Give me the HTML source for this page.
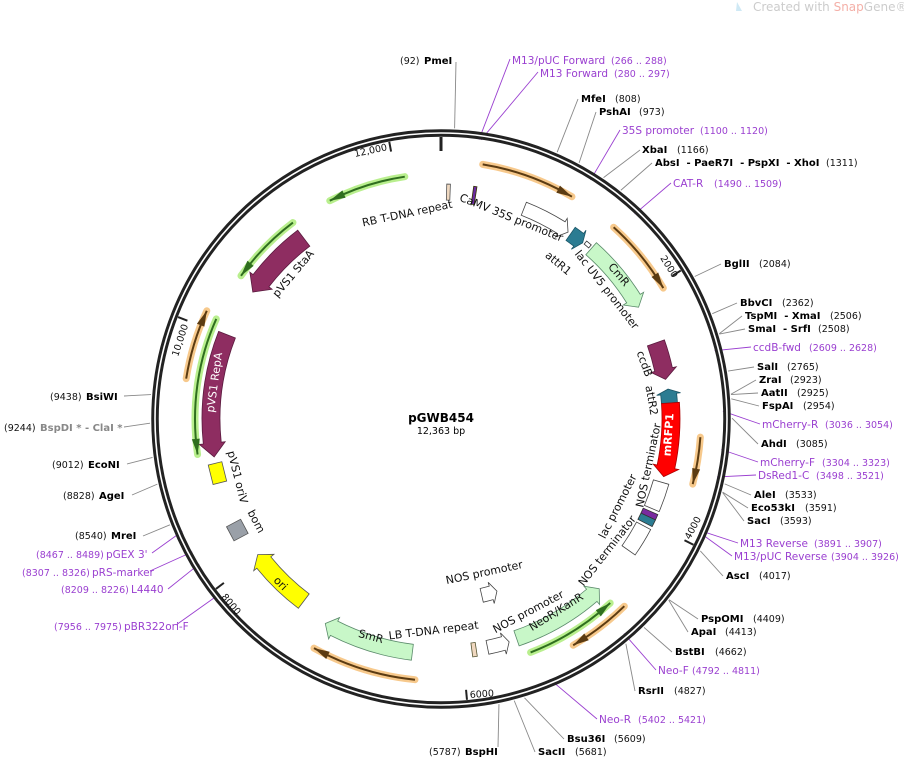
<!DOCTYPE html>
<html><head><meta charset="utf-8"><style>
html,body{margin:0;padding:0;background:#fff;}
svg{display:block;font-family:"DejaVu Sans","Liberation Sans",sans-serif;}
.b{font-weight:bold;font-size:10px;fill:#000}
.n{font-size:9.5px;fill:#111}
.p{font-size:10.5px;fill:#9a3fd0}
.pn{font-size:9.5px;fill:#9a3fd0}
.f{font-size:11px;fill:#111}
.g{font-weight:bold;font-size:10px;fill:#888}
</style></head><body>
<svg id="s" width="904" height="759" viewBox="0 0 904 759" xmlns="http://www.w3.org/2000/svg">
<text x="753" y="11" font-size="12" fill="#ccc">Created with <tspan fill="#f4b0a8">Snap</tspan>Gene®</text>
<path d="M737 2 l5 9 l-6 0 z" fill="#cfe9f5"/>
<g id="lines"></g>
<circle cx="441" cy="419" r="286" fill="none" stroke="#222" stroke-width="7.5"/>
<circle cx="441" cy="419" r="286" fill="none" stroke="#fff" stroke-width="1.6"/>
<g id="feat"></g>
<text x="441" y="422" text-anchor="middle" font-weight="bold" font-size="12">pGWB454</text>
<text x="441" y="434" text-anchor="middle" font-size="9.5">12,363 bp</text>

<text class="n" transform="translate(355,157) rotate(-12)">12,000</text>
<text class="n" transform="translate(660,258) rotate(58)">2000</text>
<text class="n" transform="translate(690,540) rotate(-62)">4000</text>
<text class="n" transform="translate(470,698) rotate(-4)">6000</text>
<text class="n" transform="translate(221,597) rotate(50)">8000</text>
<text class="n" transform="translate(178,357) rotate(-72)">10,000</text>

<text class="n" x="400" y="64">(92)</text><text class="b" x="424" y="64">PmeI</text>
<text class="p" x="512" y="64">M13/pUC Forward</text><text class="pn" x="611" y="64">(266 .. 288)</text>
<text class="p" x="540" y="77">M13 Forward</text><text class="pn" x="614" y="77">(280 .. 297)</text>
<text class="b" x="581" y="102">MfeI</text><text class="n" x="615" y="102">(808)</text>
<text class="b" x="599" y="115">PshAI</text><text class="n" x="639" y="115">(973)</text>
<text class="p" x="622" y="134">35S promoter</text><text class="pn" x="700" y="134">(1100 .. 1120)</text>
<text class="b" x="642" y="153">XbaI</text><text class="n" x="677" y="153">(1166)</text>
<text class="b" x="655" y="166">AbsI &#160;- PaeR7I &#160;- PspXI &#160;- XhoI</text><text class="n" x="826" y="166">(1311)</text>
<text class="p" x="673" y="187">CAT-R</text><text class="pn" x="714" y="187">(1490 .. 1509)</text>
<text class="b" x="724" y="267">BglII</text><text class="n" x="759" y="267">(2084)</text>
<text class="b" x="740" y="306">BbvCI</text><text class="n" x="782" y="306">(2362)</text>
<text class="b" x="745" y="319">TspMI &#160;- XmaI</text><text class="n" x="830" y="319">(2506)</text>
<text class="b" x="748" y="332">SmaI &#160;- SrfI</text><text class="n" x="818" y="332">(2508)</text>
<text class="p" x="753" y="351">ccdB-fwd</text><text class="pn" x="809" y="351">(2609 .. 2628)</text>
<text class="b" x="757" y="370">SalI</text><text class="n" x="787" y="370">(2765)</text>
<text class="b" x="759" y="383">ZraI</text><text class="n" x="790" y="383">(2923)</text>
<text class="b" x="761" y="396">AatII</text><text class="n" x="797" y="396">(2925)</text>
<text class="b" x="762" y="409">FspAI</text><text class="n" x="803" y="409">(2954)</text>
<text class="p" x="762" y="428">mCherry-R</text><text class="pn" x="825" y="428">(3036 .. 3054)</text>
<text class="b" x="761" y="447">AhdI</text><text class="n" x="796" y="447">(3085)</text>
<text class="p" x="760" y="466">mCherry-F</text><text class="pn" x="822" y="466">(3304 .. 3323)</text>
<text class="p" x="758" y="479">DsRed1-C</text><text class="pn" x="816" y="479">(3498 .. 3521)</text>
<text class="b" x="754" y="498">AleI</text><text class="n" x="785" y="498">(3533)</text>
<text class="b" x="751" y="511">Eco53kI</text><text class="n" x="805" y="511">(3591)</text>
<text class="b" x="747" y="524">SacI</text><text class="n" x="780" y="524">(3593)</text>
<text class="p" x="740" y="547">M13 Reverse</text><text class="pn" x="814" y="547">(3891 .. 3907)</text>
<text class="p" x="734" y="560">M13/pUC Reverse</text><text class="pn" x="831" y="560">(3904 .. 3926)</text>
<text class="b" x="726" y="579">AscI</text><text class="n" x="759" y="579">(4017)</text>
<text class="b" x="701" y="622">PspOMI</text><text class="n" x="753" y="622">(4409)</text>
<text class="b" x="691" y="635">ApaI</text><text class="n" x="725" y="635">(4413)</text>
<text class="b" x="675" y="655">BstBI</text><text class="n" x="715" y="655">(4662)</text>
<text class="p" x="658" y="674">Neo-F</text><text class="pn" x="692" y="674">(4792 .. 4811)</text>
<text class="b" x="638" y="694">RsrII</text><text class="n" x="674" y="694">(4827)</text>
<text class="p" x="599" y="723">Neo-R</text><text class="pn" x="638" y="723">(5402 .. 5421)</text>
<text class="b" x="567" y="742">Bsu36I</text><text class="n" x="614" y="742">(5609)</text>
<text class="b" x="538" y="755">SacII</text><text class="n" x="575" y="755">(5681)</text>
<text class="n" x="429" y="755">(5787)</text><text class="b" x="465" y="755">BspHI</text>
<text class="n" x="50" y="400">(9438)</text><text class="b" x="86" y="400">BsiWI</text>
<text class="n" x="4" y="431">(9244)</text><text class="g" x="40" y="431">BspDI * - ClaI *</text>
<text class="n" x="52" y="468">(9012)</text><text class="b" x="88" y="468">EcoNI</text>
<text class="n" x="63" y="499">(8828)</text><text class="b" x="99" y="499">AgeI</text>
<text class="n" x="75" y="539">(8540)</text><text class="b" x="111" y="539">MreI</text>
<text class="pn" x="36" y="558">(8467 .. 8489)</text><text class="p" x="106" y="558">pGEX 3'</text>
<text class="pn" x="22" y="576">(8307 .. 8326)</text><text class="p" x="92" y="576">pRS-marker</text>
<text class="pn" x="61" y="593">(8209 .. 8226)</text><text class="p" x="131" y="593">L4440</text>
<text class="pn" x="54" y="630">(7956 .. 7975)</text><text class="p" x="124" y="630">pBR322ori-F</text>

<text class="f" text-anchor="middle" transform="translate(408,217) rotate(-12)">RB T-DNA repeat</text>
<text class="f" text-anchor="middle" transform="translate(510,221) rotate(22)">CaMV 35S promoter</text>
<text class="f" text-anchor="middle" transform="translate(556,266) rotate(40)">attR1</text>
<text class="f" text-anchor="middle" transform="translate(604,292) rotate(52)">lac UV5 promoter</text>
<text class="f" text-anchor="middle" transform="translate(616,277) rotate(50)">CmR</text>
<text class="f" text-anchor="middle" transform="translate(296,276) rotate(-50)">pVS1 StaA</text>
<text class="f" text-anchor="middle" style="fill:#fff" transform="translate(218,383) rotate(-82)">pVS1 RepA</text>
<text class="f" text-anchor="middle" transform="translate(234,478) rotate(76)">pVS1 oriV</text>
<text class="f" text-anchor="middle" transform="translate(253,523) rotate(62)">bom</text>
<text class="f" text-anchor="middle" transform="translate(278,586) rotate(45)">ori</text>
<text class="f" text-anchor="middle" transform="translate(370,640) rotate(15)">SmR</text>
<text class="f" text-anchor="middle" transform="translate(434,634) rotate(-7)">LB T-DNA repeat</text>
<text class="f" text-anchor="middle" transform="translate(485,576) rotate(-12)">NOS promoter</text>
<text class="f" text-anchor="middle" transform="translate(530,615) rotate(-28)">NOS promoter</text>
<text class="f" text-anchor="middle" transform="translate(558,615) rotate(-32)">NeoR/KanR</text>
<text class="f" text-anchor="middle" transform="translate(610,553) rotate(-52)">NOS terminator</text>
<text class="f" text-anchor="middle" transform="translate(621,508) rotate(-63)">lac promoter</text>
<text class="f" text-anchor="middle" transform="translate(652,466) rotate(-78)">NOS terminator</text>
<text class="f" text-anchor="middle" transform="translate(641,365) rotate(70)">ccdB</text>
<text class="f" text-anchor="middle" transform="translate(648,401) rotate(80)">attR2</text>
<text class="f" text-anchor="middle" font-weight="bold" style="fill:#fff" transform="translate(672,435) rotate(-86)">mRFP1</text>
</svg>
<script>
var NS="http://www.w3.org/2000/svg",CX=441,CY=419;
function P(a,r){a=a*Math.PI/180;return [CX+r*Math.sin(a),CY-r*Math.cos(a)];}
function el(g,t,at){var e=document.createElementNS(NS,t);for(var k in at)e.setAttribute(k,at[k]);document.getElementById(g).appendChild(e);return e;}
function arc(a1,a2,r){var p=P(a1,r),q=P(a2,r),sw=a2>a1?1:0,lg=Math.abs(a2-a1)>180?1:0;return "M"+p[0]+" "+p[1]+" A"+r+" "+r+" 0 "+lg+" "+sw+" "+q[0]+" "+q[1];}
function thin(a1,a2,r,glow,ink){
 el("feat","path",{d:arc(a1,a2,r),fill:"none",stroke:glow,"stroke-width":7,"stroke-linecap":"round"});
 el("feat","path",{d:arc(a1,a2,r),fill:"none",stroke:ink,"stroke-width":2});
 var d=a2>a1?1:-1,h=4*d*(250/r)*0.9;var t=P(a2,r),b1=P(a2-h,r+4),b2=P(a2-h,r-4);
 el("feat","path",{d:"M"+t+" L"+b1+" L"+b2+"Z",fill:ink});
}
var O="#f7c98c",OI="#5b3b12",G="#b9ef8e",GI="#2f6e1f";
thin(9.3,30.5,258,O,OI);thin(42,59.5,258,O,OI);thin(94,104.5,260,O,OI);
thin(135.6,149.7,262,O,OI);thin(185.7,209,262,O,OI);thin(279,294.8,258,O,OI);
thin(351.5,333,245,G,GI);thin(323,305.6,246,G,GI);thin(294,261.7,246,G,GI);thin(159,137.4,250,G,GI);
function band(a1,a2,r,w,fill,stroke,head){
 var d=a2>a1?1:-1,hl=(head||10)/r*180/Math.PI*d,ab=a2-hl;
 var o=r+w/2,i=r-w/2,ho=r+w/2+4,hi=r-w/2-4;
 var s="M"+P(a1,o)+" "+arc(a1,ab,o).replace(/^M[^A]*/,"")+" L"+P(ab,ho)+" L"+P(a2,r)+" L"+P(ab,hi)+" L"+P(ab,i)+" "+arc(ab,a1,i).replace(/^M[^A]*/,"")+"Z";
 el("feat","path",{d:s,fill:fill,stroke:stroke,"stroke-width":0.8});
}
function box(a1,a2,r,w,fill,stroke){
 var o=r+w/2,i=r-w/2;
 var s="M"+P(a1,o)+" "+arc(a1,a2,o).replace(/^M[^A]*/,"")+" L"+P(a2,i)+" "+arc(a2,a1,i).replace(/^M[^A]*/,"")+"Z";
 el("feat","path",{d:s,fill:fill,stroke:stroke,"stroke-width":0.8});
}
var M="#8e2d61",LG="#c8f7c8",LGS="#5a8a6a",T="#2b7c92";
band(322.8,304,227,20,M,"#5a1a3e",14);
band(291.5,260.5,230,18,M,"#5a1a3e",14);
band(41.4,60.5,227,16,LG,LGS,10);
band(70.5,80,228,18,M,"#5a1a3e",10);
band(86,82.5,229,16,T,"#1a5566",5);
band(86,104.5,230,18,"#f00","#a00",10);
box(106,113,229,16,"#fff","#444");
box(113.8,115.2,229,16,"#7a2aa0","#333");
box(115.2,117,229,16,"#2b7c92","#333");
box(117.8,125,229,16,"#fff","#444");
band(161,137,232,16,LG,LGS,10);
band(168.5,163,233,14,"#fff","#444",6);
band(167,162,181,14,"#fff","#444",6);
box(171.3,172.4,233,14,"#f0d8c0","#553");
band(187,209.5,235,16,LG,LGS,10);
band(217,233.5,228,18,"#ff0","#555",10);
band(21.5,34.2,226,14,"#fff","#444",8);
band(35,38.8,226,16,T,"#1a5566",5);
box(39.3,40.8,228,4,"#fff","#333");
box(1.4,2.3,227,16,"#efd8c0","#555");
box(8,8.8,226,18,"#6a2aa0","#330");
(function(){var p=P(256.4,230);var r=el("feat","rect",{x:p[0]-7,y:p[1]-10,width:14,height:20,fill:"#ff0",stroke:"#555","stroke-width":0.8});r.setAttribute("transform","rotate(-14 "+p[0]+" "+p[1]+")");
p=P(241.4,232);r=el("feat","rect",{x:p[0]-8,y:p[1]-8,width:16,height:16,fill:"#9aa0a8",stroke:"#555","stroke-width":0.8});r.setAttribute("transform","rotate(-28 "+p[0]+" "+p[1]+")");})();
[[0,282,268,3],[2000,282,272,2],[4000,282,272,2],[6000,282,272,2],[8000,282,272,2],[10000,282,272,2],[12000,282,272,2]].forEach(function(t){var a=t[0]/12363*360,p=P(a,t[1]),q=P(a,t[2]);el("lines","line",{x1:p[0],y1:p[1],x2:q[0],y2:q[1],stroke:"#222","stroke-width":t[3]});});
var L=[[92,456,62],[808,578,99],[973,596,112],[1166,640,150],[1311,652,163],[2084,721,264],[2362,737,303],[2506,742,316],[2508,745,329],[2765,754,367],[2923,756,380],[2925,758,393],[2954,759,406],[3085,758,444],[3533,751,495],[3591,748,508],[3593,744,521],[4017,723,576],[4409,698,619],[4413,688,632],[4662,672,652],[4827,635,691],[5609,564,739],[5681,535,752],[5787,498,747],[9438,124,396],[9244,124,427],[9012,127,464],[8828,132,495],[8540,143,536]];
L.forEach(function(l){var a=l[0]/12363*360,p=P(a,291);el("lines","line",{x1:p[0],y1:p[1],x2:l[1],y2:l[2],stroke:"#888","stroke-width":0.9});});
var PL=[[266,510,59],[280,538,72],[1100,620,130],[1490,671,183],[2609,751,347],[3036,760,424],[3304,758,462],[3498,756,475],[3891,738,543],[3904,732,556],[4792,656,670],[5402,597,719],[8467,152,553],[8307,150,571],[8209,168,589],[7956,176,625]];
PL.forEach(function(l){var a=l[0]/12363*360,p=P(a,282);el("lines","line",{x1:p[0],y1:p[1],x2:l[1],y2:l[2],stroke:"#9a3fd0","stroke-width":0.9});});
</script>
</body></html>
